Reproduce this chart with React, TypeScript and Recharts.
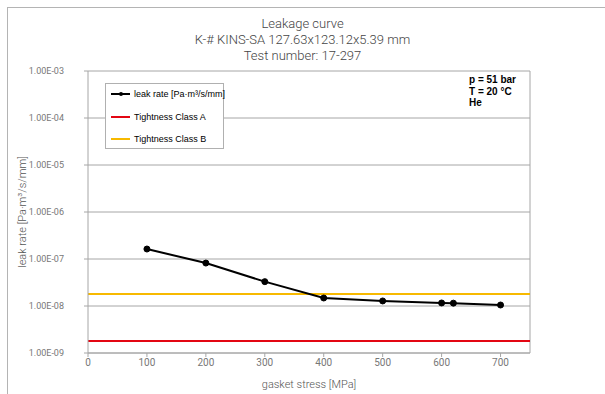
import React from "react";
import {
  CartesianGrid,
  Line,
  LineChart,
  ReferenceLine,
  XAxis,
  YAxis,
} from "recharts";

const stress = [100, 200, 300, 400, 500, 600, 620, 700];
const leakRate = [1.63e-7, 8.2e-8, 3.3e-8, 1.48e-8, 1.28e-8, 1.16e-8, 1.15e-8, 1.05e-8];
const classA = 1.8e-9;
const classB = 1.8e-8;
const xTicks = [0, 100, 200, 300, 400, 500, 600, 700];
const yTicks = [1e-9, 1e-8, 1e-7, 1e-6, 1e-5, 1e-4, 1e-3];
const titleLines = [
  "Leakage curve",
  "K-# KINS-SA 127.63x123.12x5.39 mm",
  "Test number: 17-297",
];
const conditions = ["p = 51 bar", "T = 20 °C", "He"];

const leakData = stress.map((x, i) => ({ x, y: leakRate[i] }));
const classAData = [{ x: 0, y: classA }, { x: 750, y: classA }];
const classBData = [{ x: 0, y: classB }, { x: 750, y: classB }];

const sci = (v: number) => {
  const [m, e] = v.toExponential(2).split("e");
  const n = parseInt(e, 10);
  const sign = n < 0 ? "-" : "+";
  return `${m}E${sign}${String(Math.abs(n)).padStart(2, "0")}`;
};

const gridColor = "#a6a6a6";
const labelFont = "Roboto, 'DejaVu Sans', sans-serif";

const legendItems = [
  { name: "leak rate [Pa·m³/s/mm]", color: "#000", dot: true },
  { name: "Tightness Class A", color: "#e30613", dot: false },
  { name: "Tightness Class B", color: "#f7b900", dot: false },
];

const LegendBox = () => (
  <div
    style={{
      position: "absolute",
      left: 105,
      top: 83,
      width: 119,
      height: 66,
      background: "#fff",
      border: "1px solid #b0b0b0",
      boxSizing: "border-box",
      fontFamily: "'Liberation Sans', Arial, sans-serif",
      fontSize: 9,
      color: "#000",
      paddingTop: 0,
    }}
  >
    {legendItems.map((it, i) => (
      <div
        key={it.name}
        style={{
          position: "absolute",
          top: [10, 33, 55][i] - 6,
          left: 4,
          display: "flex",
          alignItems: "center",
          height: 12,
          whiteSpace: "nowrap",
        }}
      >
        <svg width={22} height={8} style={{ marginRight: 2 }}>
          <line x1={1} y1={4} x2={20} y2={4} stroke={it.color} strokeWidth={2} />
          {it.dot && <circle cx={11} cy={4} r={2} fill="#000" />}
        </svg>
        <span>{it.name}</span>
      </div>
    ))}
  </div>
);

export default function App() {
  return (
    <div style={{ position: "absolute", left: 0, top: 0, width: 605, height: 394, background: "#fff", overflow: "hidden" }}>
      <div
        style={{
          position: "absolute",
          left: 7,
          top: 7,
          width: 620,
          height: 420,
          border: "1.5px solid #b4b4b4",
        }}
      />
      <div
        style={{
          position: "absolute",
          left: 0,
          top: 16,
          width: 605,
          textAlign: "center",
          fontFamily: labelFont,
          fontWeight: 300,
          fontSize: 13,
          lineHeight: "16px",
          color: "#444",
        }}
      >
        {titleLines.map((t) => (
          <div key={t}>{t}</div>
        ))}
      </div>
      <LineChart
        width={605}
        height={394}
        margin={{ top: 71, right: 75, bottom: 21, left: 8 }}
        style={{ position: "absolute", left: 0, top: 0 }}
      >
        <CartesianGrid vertical={false} stroke={gridColor} strokeWidth={1} />
        <XAxis
          type="number"
          dataKey="x"
          domain={[0, 750]}
          ticks={xTicks}
          allowDataOverflow
          stroke={gridColor}
          tickSize={4}
          tick={{ fill: "#777", fontSize: 10, fontFamily: labelFont }}
          height={20}
        />
        <YAxis
          type="number"
          dataKey="y"
          scale="log"
          domain={[1e-9, 1e-3]}
          ticks={yTicks}
          allowDataOverflow
          width={80}
          stroke={gridColor}
          tickSize={4}
          tickMargin={20}
          tickFormatter={sci}
          tick={{ fill: "#777", fontSize: 9, fontFamily: labelFont }}
        />
        <ReferenceLine x={750} stroke={gridColor} />
        <Line
          data={classAData}
          dataKey="y"
          name="Tightness Class A"
          stroke="#e30613"
          strokeWidth={2}
          dot={false}
          isAnimationActive={false}
        />
        <Line
          data={classBData}
          dataKey="y"
          name="Tightness Class B"
          stroke="#f7b900"
          strokeWidth={2}
          dot={false}
          isAnimationActive={false}
        />
        <Line
          data={leakData}
          dataKey="y"
          name="leak rate [Pa·m³/s/mm]"
          stroke="#000"
          strokeWidth={2}
          dot={{ r: 3, fill: "#000", stroke: "#000", strokeWidth: 1 }}
          isAnimationActive={false}
        />
      </LineChart>
      <LegendBox />
      <div
        style={{
          position: "absolute",
          left: 469,
          top: 74,
          fontFamily: "'Liberation Sans', Arial, sans-serif",
          fontWeight: "bold",
          fontSize: 10,
          lineHeight: "11.5px",
          color: "#000",
        }}
      >
        {conditions.map((c) => (
          <div key={c}>{c}</div>
        ))}
      </div>
      <div
        style={{
          position: "absolute",
          left: 22,
          top: 212,
          transform: "translate(-50%, -50%) rotate(-90deg)",
          whiteSpace: "nowrap",
          fontFamily: labelFont,
          fontWeight: 300,
          fontSize: 11,
          color: "#555",
        }}
      >
        leak rate [Pa·m³/s/mm]
      </div>
      <div
        style={{
          position: "absolute",
          left: 309,
          top: 384,
          transform: "translate(-50%, -50%)",
          whiteSpace: "nowrap",
          fontFamily: labelFont,
          fontWeight: 300,
          fontSize: 11,
          color: "#555",
        }}
      >
        gasket stress [MPa]
      </div>
    </div>
  );
}
